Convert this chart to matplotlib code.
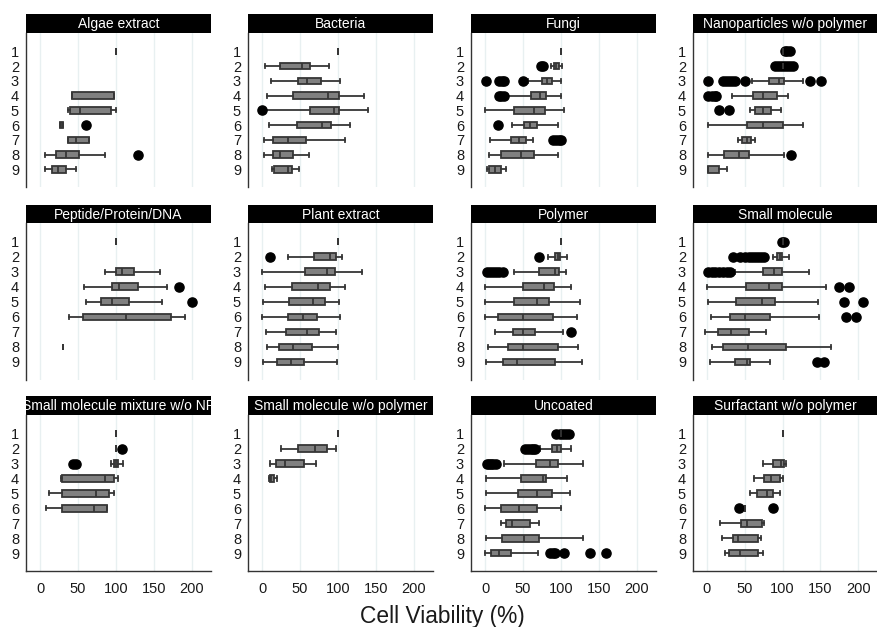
import matplotlib
matplotlib.use("Agg")
import matplotlib.pyplot as plt

plt.rcParams['font.family'] = ['Liberation Sans', 'DejaVu Sans']

# Box summaries per row: (whisker low, Q1, median, Q3, whisker high); None = no data
categories = [1, 2, 3, 4, 5, 6, 7, 8, 9]
x_ticks = [0, 50, 100, 150, 200]

panel_titles = [
    "Algae extract", "Bacteria", "Fungi", "Nanoparticles w/o polymer",
    "Peptide/Protein/DNA", "Plant extract", "Polymer", "Small molecule",
    "Small molecule mixture w/o NP", "Small molecule w/o polymer", "Uncoated",
    "Surfactant w/o polymer",
]

algae_stats = [
    (100, 100, 100, 100, 100), None, None,
    (42, 42, 42, 97, 97),
    (37, 40, 53, 93, 100),
    (26, 26, 28, 30, 30),
    (37, 37, 47.5, 65, 65),
    (6, 21.5, 34, 51, 85),
    (6, 15.5, 24, 34, 47.5),
]
algae_fliers = {6: [61], 8: [129]}

bacteria_stats = [
    (100, 100, 100, 100, 100),
    (3.5, 23, 52.5, 63, 88.5),
    (11.5, 47, 59.5, 77, 103),
    (6.5, 40.5, 87, 101, 134),
    (4, 63, 94.5, 101, 140),
    (9, 45.5, 79, 90.5, 116),
    (2.5, 14.5, 34.5, 58, 109),
    (2, 15, 24, 41, 62),
    (13, 16, 34.5, 39, 48),
]
bacteria_fliers = {5: [0]}

fungi_stats = [
    (100, 100, 100, 100, 100),
    (87, 90.5, 93.5, 97, 101.5),
    (57, 75, 81, 88.5, 99.5),
    (28.5, 60.5, 72, 80.5, 99.5),
    (0, 38, 65, 79, 104.5),
    (36, 51, 59, 69, 96),
    (6.5, 34.5, 44.5, 54, 62.5),
    (5, 20.5, 47.5, 65, 96),
    (3, 5.5, 13.5, 21.5, 28),
]
fungi_fliers = {2: [73, 76], 3: [1, 19, 22, 25, 50], 4: [18, 21, 25],
                6: [17], 7: [90, 94, 97, 100]}

nano_stats = [
    (100, 100, 100, 100, 100),
    (100, 100, 100, 100, 100),
    (60, 82.5, 95.5, 102.5, 127),
    (33, 61.5, 74.5, 92.5, 107.5),
    (57, 64, 74.5, 84.5, 97.5),
    (2, 52.5, 74.5, 100, 127.5),
    (41, 47, 52.5, 58, 63),
    (2, 22, 42.5, 55.5, 102),
    (1, 1.5, 2, 16.5, 27),
]
nano_fliers = {1: [103, 106, 110], 2: [90, 94, 98, 102, 106, 110, 114],
               3: [2, 21, 25, 29, 33, 37, 50.5, 136, 151], 4: [2, 6, 10, 12],
               5: [15.5, 29.5], 8: [111]}

peptide_stats = [
    (100, 100, 100, 100, 100), None,
    (86, 100, 107.5, 123, 158),
    (57.5, 94.5, 104, 128.5, 167),
    (60.5, 80, 94.5, 117.5, 160),
    (38, 56, 112.5, 172, 191),
    None,
    (30, 30, 30, 30, 30),
    None,
]
peptide_fliers = {4: [183], 5: [200]}

plant_stats = [
    (100, 100, 100, 100, 100),
    (34.5, 68.5, 89.5, 97.5, 105.5),
    (0.5, 57, 86, 96.5, 131.5),
    (4, 39, 73, 89.5, 109.5),
    (1.5, 35.5, 66.5, 83, 101),
    (0.5, 34.5, 54, 72, 102),
    (5, 31.5, 59.5, 75, 97),
    (6, 22.5, 41, 65.5, 100.5),
    (1, 19.5, 38.5, 55, 98),
]
plant_fliers = {2: [11]}

polymer_stats = [
    (100, 100, 100, 100, 100),
    (82.5, 92, 96.5, 98.5, 107.5),
    (38, 71.5, 92.5, 97, 106.5),
    (0, 50.5, 77, 91, 112.5),
    (0, 38.5, 68, 84, 125),
    (0, 16.5, 50, 89, 120.5),
    (13, 37, 50.5, 65.5, 102),
    (4.5, 30.5, 50, 96.5, 122),
    (1, 23.5, 41.5, 92, 127),
]
polymer_fliers = {2: [71], 3: [2, 6, 10, 14, 18, 23], 7: [112.5]}

small_stats = [
    (100, 100, 100, 100, 100),
    (88, 92.5, 97, 99.5, 108),
    (36.5, 73.5, 89, 99, 134.5),
    (0, 51, 82, 99, 157.5),
    (1, 38.5, 72.5, 90, 147),
    (5, 31, 50, 84, 148.5),
    (-2, 14, 32, 55, 77.5),
    (7, 21, 54, 105, 164.5),
    (4.5, 36.5, 53, 56.5, 83.5),
]
small_fliers = {1: [99, 102], 2: [35, 44, 50, 55, 59, 63, 67, 71, 75],
                3: [1, 6, 11, 16, 21, 26, 31], 4: [175, 187.5],
                5: [181, 206], 6: [184, 197], 9: [145, 155]}

mixture_stats = [
    (100, 100, 100, 100, 100),
    (100, 100, 100, 100, 100),
    (93, 97.5, 100, 102, 109),
    (27.5, 29, 86, 97.5, 102.5),
    (11.5, 29, 74, 90.5, 97.5),
    (7.5, 29, 71, 88, 88),
    None, None, None,
]
mixture_fliers = {2: [108], 3: [43.5, 47]}

small_np_stats = [
    (100, 100, 100, 100, 100),
    (25.5, 47, 69.5, 85.5, 97),
    (11, 18.5, 30.5, 55, 71.5),
    (9, 10, 11.5, 15.5, 19.5),
    None, None, None, None, None,
]
small_np_fliers = {}

uncoated_stats = [
    (100, 100, 100, 100, 100),
    (72, 88, 94.5, 99.5, 113),
    (25, 67.5, 85, 96, 129.5),
    (1, 47.5, 76, 80.5, 107.5),
    (1, 44, 68, 88, 111.5),
    (0, 20.5, 45, 69, 100),
    (20.5, 27, 35, 59, 71.5),
    (1, 22.5, 51, 70.5, 129.5),
    (0, 7.5, 18.5, 33.5, 69.5),
]
uncoated_fliers = {1: [94, 98, 102, 106, 110], 2: [53, 56, 60, 63, 66],
                   3: [2, 5, 8, 11, 14], 9: [86, 89, 92, 103.5, 138, 159]}

surfactant_stats = [
    (100, 100, 100, 100, 100), None,
    (74.5, 88, 98.5, 102, 104),
    (62.5, 75, 84.5, 96, 100),
    (57.5, 66, 79, 87.5, 96.5),
    (50, 50, 50, 50, 50),
    (17.5, 45, 52.5, 73, 76),
    (19.5, 34.5, 41.5, 67.5, 72),
    (23.5, 28.5, 44, 67.5, 73.5),
]
surfactant_fliers = {6: [42, 87]}

panel_stats = [algae_stats, bacteria_stats, fungi_stats, nano_stats,
               peptide_stats, plant_stats, polymer_stats, small_stats,
               mixture_stats, small_np_stats, uncoated_stats, surfactant_stats]
panel_fliers = [algae_fliers, bacteria_fliers, fungi_fliers, nano_fliers,
                peptide_fliers, plant_fliers, polymer_fliers, small_fliers,
                mixture_fliers, small_np_fliers, uncoated_fliers, surfactant_fliers]

# ---- layout (pixel geometry of the 877 x 627 canvas) ----
W, H = 877, 627
fig = plt.figure(figsize=(W / 100, H / 100), dpi=100)
fig.patch.set_facecolor("white")

col_left = [26, 248, 471, 693]
col_width = 185
bar_top = [14, 205, 396]
plot_top = [33, 223, 415]
plot_bottom = [187, 380, 571]

box_face = "#808080"
edge = "#363636"
text_col = "#1a1a1a"

for i, title in enumerate(panel_titles):
    r, c = divmod(i, 4)
    left = col_left[c] / W
    width = min(col_width, W - col_left[c]) / W

    # title strip
    bax = fig.add_axes([left, 1 - plot_top[r] / H, width,
                        (plot_top[r] - bar_top[r]) / H])
    bax.set_facecolor("black")
    bax.set_xticks([])
    bax.set_yticks([])
    for s in bax.spines.values():
        s.set_visible(False)
    bax.text(0.5, 0.45, title, transform=bax.transAxes, ha="center",
             va="center", color="white", fontsize=10, clip_on=True)

    ax = fig.add_axes([left, 1 - plot_bottom[r] / H, width,
                       (plot_bottom[r] - plot_top[r]) / H])

    stats = []
    positions = []
    for cat, row in zip(categories, panel_stats[i]):
        if row is None:
            continue
        lo, q1, med, q3, hi = row
        stats.append(dict(whislo=lo, q1=q1, med=med, q3=q3, whishi=hi,
                          fliers=panel_fliers[i].get(cat, [])))
        positions.append(cat)

    ax.bxp(stats, positions=positions, orientation="horizontal",
           widths=0.45, capwidths=0.28, patch_artist=True,
           boxprops=dict(facecolor=box_face, edgecolor=edge, linewidth=1.3),
           medianprops=dict(color=edge, linewidth=1.3),
           whiskerprops=dict(color=edge, linewidth=1.3),
           capprops=dict(color=edge, linewidth=1.3),
           flierprops=dict(marker="o", markerfacecolor="black",
                           markeredgecolor="black", markersize=6.6,
                           linestyle="none"),
           manage_ticks=False, zorder=3)

    ax.set_xlim(-18.5, 225)
    ax.set_ylim(10.2, -0.25)
    ax.set_yticks(categories)
    ax.set_yticklabels([str(v) for v in categories])
    ax.set_xticks(x_ticks)
    ax.grid(axis="x", color="#e8f0f1", linewidth=1.0, zorder=0)
    ax.set_axisbelow(True)
    ax.tick_params(axis="y", length=0, pad=5, labelsize=10.5, labelcolor=text_col)
    for s in ("top", "right"):
        ax.spines[s].set_visible(False)
    ax.spines["left"].set_color("#333333")
    ax.spines["left"].set_linewidth(1.0)
    if r == 2:
        ax.spines["bottom"].set_color("#333333")
        ax.spines["bottom"].set_linewidth(1.0)
        ax.tick_params(axis="x", length=0, pad=8, labelsize=10.5,
                       labelcolor=text_col)
    else:
        ax.spines["bottom"].set_visible(False)
        ax.tick_params(axis="x", length=0, labelbottom=False)

fig.text(442 / W, 1 - 616 / H, "Cell Viability (%)", ha="center",
         va="center", fontsize=16.4, color=text_col)

fig.savefig("out.png", dpi=100)
